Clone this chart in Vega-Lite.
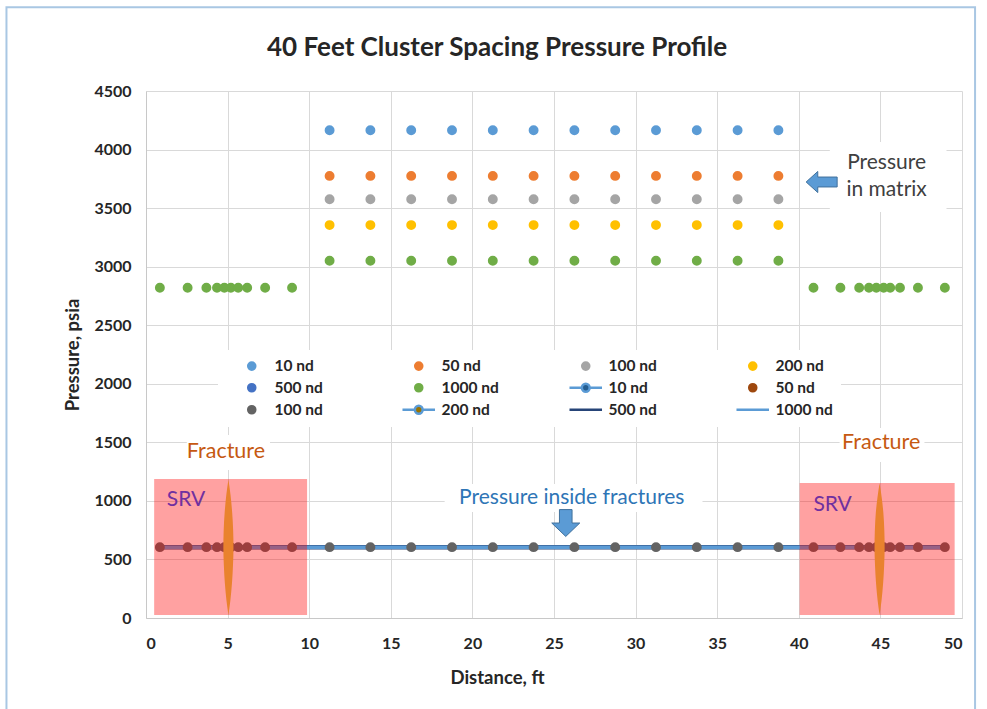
{
  "$schema": "https://vega.github.io/schema/vega-lite/v6.json",
  "width": 816,
  "height": 527,
  "autosize": {"type": "none"},
  "padding": {"left": 146, "top": 91, "right": 25, "bottom": 91},
  "background": "white",
  "config": {
    "font": "Lato",
    "view": {"stroke": null},
    "axis": {
      "grid": true,
      "gridColor": "#D9D9D9",
      "gridWidth": 1,
      "domainColor": "#C8C8C8",
      "domainWidth": 1,
      "ticks": false,
      "format": "d",
      "labelFont": "Lato",
      "labelFontSize": 16,
      "labelFontWeight": "bold",
      "labelColor": "#262626",
      "titleFont": "Lato",
      "titleFontSize": 18.5,
      "titleFontWeight": "bold",
      "titleColor": "#262626"
    }
  },
  "title": {
    "text": "40 Feet Cluster Spacing Pressure Profile",
    "font": "Lato",
    "fontSize": 26,
    "fontWeight": "bold",
    "color": "#262626",
    "anchor": "middle",
    "frame": "group",
    "dx": -57,
    "dy": 55,
    "offset": 0
  },
  "datasets": {
    "frame": [{"x": -8.55, "x2": 50.8, "y": 5215, "y2": -800}],
    "boxes": [
      {"x": 41.9, "x2": 49.05, "y": 3467, "y2": 4065},
      {"x": 18.3, "x2": 34.1, "y": 905, "y2": 1144},
      {"x": 2.5, "x2": 7.6, "y": 1264, "y2": 1563},
      {"x": 42.5, "x2": 47.7, "y": 1332, "y2": 1622}
    ],
    "zones": [
      {"x": 0.5, "x2": 9.87, "y": 25, "y2": 1187},
      {"x": 40.05, "x2": 49.55, "y": 25, "y2": 1153}
    ],
    "fractures": [
      {"frac": "left", "y": 25, "x": 5.05, "x2": 5.05},
      {"frac": "left", "y": 150, "x": 4.93, "x2": 5.17},
      {"frac": "left", "y": 300, "x": 4.83, "x2": 5.27},
      {"frac": "left", "y": 450, "x": 4.77, "x2": 5.33},
      {"frac": "left", "y": 600, "x": 4.74, "x2": 5.36},
      {"frac": "left", "y": 750, "x": 4.76, "x2": 5.34},
      {"frac": "left", "y": 900, "x": 4.82, "x2": 5.28},
      {"frac": "left", "y": 1050, "x": 4.92, "x2": 5.18},
      {"frac": "left", "y": 1180, "x": 5.05, "x2": 5.05},
      {"frac": "right", "y": 25, "x": 44.95, "x2": 44.95},
      {"frac": "right", "y": 150, "x": 44.83, "x2": 45.07},
      {"frac": "right", "y": 300, "x": 44.73, "x2": 45.17},
      {"frac": "right", "y": 450, "x": 44.67, "x2": 45.23},
      {"frac": "right", "y": 600, "x": 44.64, "x2": 45.26},
      {"frac": "right", "y": 750, "x": 44.66, "x2": 45.24},
      {"frac": "right", "y": 900, "x": 44.72, "x2": 45.18},
      {"frac": "right", "y": 1030, "x": 44.82, "x2": 45.08},
      {"frac": "right", "y": 1150, "x": 44.95, "x2": 44.95}
    ],
    "lines": [
      {"series": "F 500 nd", "x": 0.85, "y": 605}, {"series": "F 500 nd", "x": 2.55, "y": 605}, {"series": "F 500 nd", "x": 3.7, "y": 605}, {"series": "F 500 nd", "x": 4.35, "y": 605}, {"series": "F 500 nd", "x": 4.8, "y": 605}, {"series": "F 500 nd", "x": 5.2, "y": 605}, {"series": "F 500 nd", "x": 5.65, "y": 605}, {"series": "F 500 nd", "x": 6.2, "y": 605}, {"series": "F 500 nd", "x": 7.3, "y": 605}, {"series": "F 500 nd", "x": 8.95, "y": 605},
      {"series": "F 500 nd", "x": 11.25, "y": 605}, {"series": "F 500 nd", "x": 13.75, "y": 605}, {"series": "F 500 nd", "x": 16.25, "y": 605}, {"series": "F 500 nd", "x": 18.75, "y": 605}, {"series": "F 500 nd", "x": 21.25, "y": 605}, {"series": "F 500 nd", "x": 23.75, "y": 605}, {"series": "F 500 nd", "x": 26.25, "y": 605}, {"series": "F 500 nd", "x": 28.75, "y": 605}, {"series": "F 500 nd", "x": 31.25, "y": 605}, {"series": "F 500 nd", "x": 33.75, "y": 605}, {"series": "F 500 nd", "x": 36.25, "y": 605}, {"series": "F 500 nd", "x": 38.75, "y": 605},
      {"series": "F 500 nd", "x": 40.9, "y": 605}, {"series": "F 500 nd", "x": 42.55, "y": 605}, {"series": "F 500 nd", "x": 43.7, "y": 605}, {"series": "F 500 nd", "x": 44.3, "y": 605}, {"series": "F 500 nd", "x": 44.75, "y": 605}, {"series": "F 500 nd", "x": 45.2, "y": 605}, {"series": "F 500 nd", "x": 45.6, "y": 605}, {"series": "F 500 nd", "x": 46.2, "y": 605}, {"series": "F 500 nd", "x": 47.3, "y": 605}, {"series": "F 500 nd", "x": 48.95, "y": 605},
      {"series": "F 1000 nd", "x": 0.85, "y": 605}, {"series": "F 1000 nd", "x": 2.55, "y": 605}, {"series": "F 1000 nd", "x": 3.7, "y": 605}, {"series": "F 1000 nd", "x": 4.35, "y": 605}, {"series": "F 1000 nd", "x": 4.8, "y": 605}, {"series": "F 1000 nd", "x": 5.2, "y": 605}, {"series": "F 1000 nd", "x": 5.65, "y": 605}, {"series": "F 1000 nd", "x": 6.2, "y": 605}, {"series": "F 1000 nd", "x": 7.3, "y": 605}, {"series": "F 1000 nd", "x": 8.95, "y": 605},
      {"series": "F 1000 nd", "x": 11.25, "y": 605}, {"series": "F 1000 nd", "x": 13.75, "y": 605}, {"series": "F 1000 nd", "x": 16.25, "y": 605}, {"series": "F 1000 nd", "x": 18.75, "y": 605}, {"series": "F 1000 nd", "x": 21.25, "y": 605}, {"series": "F 1000 nd", "x": 23.75, "y": 605}, {"series": "F 1000 nd", "x": 26.25, "y": 605}, {"series": "F 1000 nd", "x": 28.75, "y": 605}, {"series": "F 1000 nd", "x": 31.25, "y": 605}, {"series": "F 1000 nd", "x": 33.75, "y": 605}, {"series": "F 1000 nd", "x": 36.25, "y": 605}, {"series": "F 1000 nd", "x": 38.75, "y": 605},
      {"series": "F 1000 nd", "x": 40.9, "y": 605}, {"series": "F 1000 nd", "x": 42.55, "y": 605}, {"series": "F 1000 nd", "x": 43.7, "y": 605}, {"series": "F 1000 nd", "x": 44.3, "y": 605}, {"series": "F 1000 nd", "x": 44.75, "y": 605}, {"series": "F 1000 nd", "x": 45.2, "y": 605}, {"series": "F 1000 nd", "x": 45.6, "y": 605}, {"series": "F 1000 nd", "x": 46.2, "y": 605}, {"series": "F 1000 nd", "x": 47.3, "y": 605}, {"series": "F 1000 nd", "x": 48.95, "y": 605}
    ],
    "points": [
      {"series": "M 10 nd", "x": 11.25, "y": 4165}, {"series": "M 10 nd", "x": 13.75, "y": 4165}, {"series": "M 10 nd", "x": 16.25, "y": 4165}, {"series": "M 10 nd", "x": 18.75, "y": 4165}, {"series": "M 10 nd", "x": 21.25, "y": 4165}, {"series": "M 10 nd", "x": 23.75, "y": 4165}, {"series": "M 10 nd", "x": 26.25, "y": 4165}, {"series": "M 10 nd", "x": 28.75, "y": 4165}, {"series": "M 10 nd", "x": 31.25, "y": 4165}, {"series": "M 10 nd", "x": 33.75, "y": 4165}, {"series": "M 10 nd", "x": 36.25, "y": 4165}, {"series": "M 10 nd", "x": 38.75, "y": 4165},
      {"series": "M 50 nd", "x": 11.25, "y": 3775}, {"series": "M 50 nd", "x": 13.75, "y": 3775}, {"series": "M 50 nd", "x": 16.25, "y": 3775}, {"series": "M 50 nd", "x": 18.75, "y": 3775}, {"series": "M 50 nd", "x": 21.25, "y": 3775}, {"series": "M 50 nd", "x": 23.75, "y": 3775}, {"series": "M 50 nd", "x": 26.25, "y": 3775}, {"series": "M 50 nd", "x": 28.75, "y": 3775}, {"series": "M 50 nd", "x": 31.25, "y": 3775}, {"series": "M 50 nd", "x": 33.75, "y": 3775}, {"series": "M 50 nd", "x": 36.25, "y": 3775}, {"series": "M 50 nd", "x": 38.75, "y": 3775},
      {"series": "M 100 nd", "x": 11.25, "y": 3575}, {"series": "M 100 nd", "x": 13.75, "y": 3575}, {"series": "M 100 nd", "x": 16.25, "y": 3575}, {"series": "M 100 nd", "x": 18.75, "y": 3575}, {"series": "M 100 nd", "x": 21.25, "y": 3575}, {"series": "M 100 nd", "x": 23.75, "y": 3575}, {"series": "M 100 nd", "x": 26.25, "y": 3575}, {"series": "M 100 nd", "x": 28.75, "y": 3575}, {"series": "M 100 nd", "x": 31.25, "y": 3575}, {"series": "M 100 nd", "x": 33.75, "y": 3575}, {"series": "M 100 nd", "x": 36.25, "y": 3575}, {"series": "M 100 nd", "x": 38.75, "y": 3575},
      {"series": "M 200 nd", "x": 11.25, "y": 3355}, {"series": "M 200 nd", "x": 13.75, "y": 3355}, {"series": "M 200 nd", "x": 16.25, "y": 3355}, {"series": "M 200 nd", "x": 18.75, "y": 3355}, {"series": "M 200 nd", "x": 21.25, "y": 3355}, {"series": "M 200 nd", "x": 23.75, "y": 3355}, {"series": "M 200 nd", "x": 26.25, "y": 3355}, {"series": "M 200 nd", "x": 28.75, "y": 3355}, {"series": "M 200 nd", "x": 31.25, "y": 3355}, {"series": "M 200 nd", "x": 33.75, "y": 3355}, {"series": "M 200 nd", "x": 36.25, "y": 3355}, {"series": "M 200 nd", "x": 38.75, "y": 3355},
      {"series": "M 1000 nd", "x": 11.25, "y": 3050}, {"series": "M 1000 nd", "x": 13.75, "y": 3050}, {"series": "M 1000 nd", "x": 16.25, "y": 3050}, {"series": "M 1000 nd", "x": 18.75, "y": 3050}, {"series": "M 1000 nd", "x": 21.25, "y": 3050}, {"series": "M 1000 nd", "x": 23.75, "y": 3050}, {"series": "M 1000 nd", "x": 26.25, "y": 3050}, {"series": "M 1000 nd", "x": 28.75, "y": 3050}, {"series": "M 1000 nd", "x": 31.25, "y": 3050}, {"series": "M 1000 nd", "x": 33.75, "y": 3050}, {"series": "M 1000 nd", "x": 36.25, "y": 3050}, {"series": "M 1000 nd", "x": 38.75, "y": 3050},
      {"series": "M 1000 nd", "x": 0.85, "y": 2820}, {"series": "M 1000 nd", "x": 2.55, "y": 2820}, {"series": "M 1000 nd", "x": 3.7, "y": 2820}, {"series": "M 1000 nd", "x": 4.35, "y": 2820}, {"series": "M 1000 nd", "x": 4.8, "y": 2820}, {"series": "M 1000 nd", "x": 5.2, "y": 2820}, {"series": "M 1000 nd", "x": 5.65, "y": 2820}, {"series": "M 1000 nd", "x": 6.2, "y": 2820}, {"series": "M 1000 nd", "x": 7.3, "y": 2820}, {"series": "M 1000 nd", "x": 8.95, "y": 2820},
      {"series": "M 1000 nd", "x": 40.9, "y": 2820}, {"series": "M 1000 nd", "x": 42.55, "y": 2820}, {"series": "M 1000 nd", "x": 43.7, "y": 2820}, {"series": "M 1000 nd", "x": 44.3, "y": 2820}, {"series": "M 1000 nd", "x": 44.75, "y": 2820}, {"series": "M 1000 nd", "x": 45.2, "y": 2820}, {"series": "M 1000 nd", "x": 45.6, "y": 2820}, {"series": "M 1000 nd", "x": 46.2, "y": 2820}, {"series": "M 1000 nd", "x": 47.3, "y": 2820}, {"series": "M 1000 nd", "x": 48.95, "y": 2820},
      {"series": "F 100 nd", "x": 0.85, "y": 605}, {"series": "F 100 nd", "x": 2.55, "y": 605}, {"series": "F 100 nd", "x": 3.7, "y": 605}, {"series": "F 100 nd", "x": 4.35, "y": 605}, {"series": "F 100 nd", "x": 4.8, "y": 605}, {"series": "F 100 nd", "x": 5.2, "y": 605}, {"series": "F 100 nd", "x": 5.65, "y": 605}, {"series": "F 100 nd", "x": 6.2, "y": 605}, {"series": "F 100 nd", "x": 7.3, "y": 605}, {"series": "F 100 nd", "x": 8.95, "y": 605},
      {"series": "F 100 nd", "x": 11.25, "y": 605}, {"series": "F 100 nd", "x": 13.75, "y": 605}, {"series": "F 100 nd", "x": 16.25, "y": 605}, {"series": "F 100 nd", "x": 18.75, "y": 605}, {"series": "F 100 nd", "x": 21.25, "y": 605}, {"series": "F 100 nd", "x": 23.75, "y": 605}, {"series": "F 100 nd", "x": 26.25, "y": 605}, {"series": "F 100 nd", "x": 28.75, "y": 605}, {"series": "F 100 nd", "x": 31.25, "y": 605}, {"series": "F 100 nd", "x": 33.75, "y": 605}, {"series": "F 100 nd", "x": 36.25, "y": 605}, {"series": "F 100 nd", "x": 38.75, "y": 605},
      {"series": "F 100 nd", "x": 40.9, "y": 605}, {"series": "F 100 nd", "x": 42.55, "y": 605}, {"series": "F 100 nd", "x": 43.7, "y": 605}, {"series": "F 100 nd", "x": 44.3, "y": 605}, {"series": "F 100 nd", "x": 44.75, "y": 605}, {"series": "F 100 nd", "x": 45.2, "y": 605}, {"series": "F 100 nd", "x": 45.6, "y": 605}, {"series": "F 100 nd", "x": 46.2, "y": 605}, {"series": "F 100 nd", "x": 47.3, "y": 605}, {"series": "F 100 nd", "x": 48.95, "y": 605}
    ],
    "notes": [
      {"kind": "fracture", "text": "Fracture", "x": 4.9, "y": 1416},
      {"kind": "fracture", "text": "Fracture", "x": 45.05, "y": 1495},
      {"kind": "srv", "text": "SRV", "x": 2.45, "y": 1008},
      {"kind": "srv", "text": "SRV", "x": 42.07, "y": 965},
      {"kind": "inside", "text": "Pressure inside fractures", "x": 26.09, "y": 1025},
      {"kind": "matrix", "text": "Pressure", "x": 45.38, "y": 3885},
      {"kind": "matrix", "text": "in matrix", "x": 45.38, "y": 3655}
    ],
    "arrows": [
      {"dir": "left", "x": 41.4, "y": 3723},
      {"dir": "down", "x": 25.72, "y": 811}
    ]
  },
  "encoding": {
    "x": {
      "field": "x",
      "type": "quantitative",
      "scale": {"domain": [0, 50], "nice": false, "zero": false},
      "axis": {
        "title": "Distance, ft",
        "values": [0, 5, 10, 15, 20, 25, 30, 35, 40, 45, 50],
        "labelPadding": 17,
        "titleX": 351,
        "titleY": 65,
        "titleBaseline": "alphabetic"
      }
    },
    "y": {
      "field": "y",
      "type": "quantitative",
      "scale": {"domain": [0, 4500], "nice": false, "zero": false},
      "axis": {
        "title": "Pressure, psia",
        "values": [0, 500, 1000, 1500, 2000, 2500, 3000, 3500, 4000, 4500],
        "labelPadding": 15,
        "titlePadding": 11
      }
    }
  },
  "layer": [
    {
      "data": {"name": "frame"},
      "mark": {"type": "rect", "clip": false, "fill": null, "fillOpacity": 0, "stroke": "#A9C7E3", "strokeWidth": 2},
      "encoding": {"x2": {"field": "x2"}, "y2": {"field": "y2"}}
    },
    {
      "data": {"name": "boxes"},
      "mark": {"type": "rect", "fill": "white"},
      "encoding": {"x2": {"field": "x2"}, "y2": {"field": "y2"}}
    },
    {
      "data": {"name": "lines"},
      "transform": [{"filter": "datum.series == 'F 500 nd'"}],
      "mark": {"type": "line", "color": "#264478", "strokeWidth": 4.5},
      "encoding": {"order": {"field": "x"}}
    },
    {
      "data": {"name": "lines"},
      "transform": [{"filter": "datum.series == 'F 1000 nd'"}],
      "mark": {"type": "line", "color": "#5B9BD5", "strokeWidth": 3.5},
      "encoding": {"order": {"field": "x"}}
    },
    {
      "data": {"name": "points"},
      "mark": {"type": "point", "filled": true, "opacity": 1, "size": 55, "strokeWidth": 2.5},
      "encoding": {
        "fill": {
          "field": "series",
          "type": "nominal",
          "scale": {
            "domain": ["M 10 nd", "M 50 nd", "M 100 nd", "M 200 nd", "M 500 nd", "M 1000 nd", "F 10 nd", "F 50 nd", "F 100 nd", "F 200 nd", "F 500 nd", "F 1000 nd"],
            "range": ["#5B9BD5", "#ED7D31", "#A5A5A5", "#FFC000", "#4472C4", "#70AD47", "#255E91", "#9E480E", "#636363", "#997300", "#264478", "#5B9BD5"]
          },
          "legend": {
            "title": null,
            "orient": "none",
            "direction": "horizontal",
            "legendX": 72,
            "legendY": 259,
            "columns": 4,
            "gridAlign": "all",
            "columnPadding": 61,
            "rowPadding": 3,
            "padding": 8,
            "fillColor": "white",
            "symbolSize": 50,
            "symbolStrokeWidth": 2.5,
            "symbolOffset": 18,
            "labelOffset": 15,
            "labelFont": "Lato",
            "labelFontSize": 15.5,
            "labelFontWeight": "bold",
            "labelColor": "#262626",
            "labelExpr": "substring(datum.label, 2)"
          }
        },
        "stroke": {
          "field": "series",
          "type": "nominal",
          "scale": {
            "domain": ["M 10 nd", "M 50 nd", "M 100 nd", "M 200 nd", "M 500 nd", "M 1000 nd", "F 10 nd", "F 50 nd", "F 100 nd", "F 200 nd", "F 500 nd", "F 1000 nd"],
            "range": ["#5B9BD5", "#ED7D31", "#A5A5A5", "#FFC000", "#4472C4", "#70AD47", "#5B9BD5", "#9E480E", "#636363", "#5B9BD5", "#264478", "#5B9BD5"]
          }
        },
        "shape": {
          "field": "series",
          "type": "nominal",
          "scale": {
            "domain": ["M 10 nd", "M 50 nd", "M 100 nd", "M 200 nd", "M 500 nd", "M 1000 nd", "F 10 nd", "F 50 nd", "F 100 nd", "F 200 nd", "F 500 nd", "F 1000 nd"],
            "range": [
              "circle", "circle", "circle", "circle", "circle", "circle",
              "M-4.6,0 L-1.1,0 M1.1,0 L4.6,0 M-1.1,0 A1.1,1.1 0 1,1 1.1,0 A1.1,1.1 0 1,1 -1.1,0 Z",
              "circle", "circle",
              "M-4.6,0 L-1.1,0 M1.1,0 L4.6,0 M-1.1,0 A1.1,1.1 0 1,1 1.1,0 A1.1,1.1 0 1,1 -1.1,0 Z",
              "M-4.6,0 L4.6,0",
              "M-4.6,0 L4.6,0"
            ]
          }
        }
      }
    },
    {
      "data": {"name": "zones"},
      "mark": {"type": "rect", "fill": "#FF0000", "fillOpacity": 0.37},
      "encoding": {"x2": {"field": "x2"}, "y2": {"field": "y2"}}
    },
    {
      "data": {"name": "fractures"},
      "mark": {"type": "area", "orient": "horizontal", "color": "#E9822E", "opacity": 1, "interpolate": "monotone"},
      "encoding": {"x2": {"field": "x2"}, "detail": {"field": "frac"}}
    },
    {
      "data": {"name": "notes"},
      "transform": [{"filter": "datum.kind == 'fracture'"}],
      "mark": {"type": "text", "font": "Lato", "fontSize": 21.5, "color": "#C65911", "align": "center", "baseline": "middle"},
      "encoding": {"text": {"field": "text"}}
    },
    {
      "data": {"name": "notes"},
      "transform": [{"filter": "datum.kind == 'srv'"}],
      "mark": {"type": "text", "font": "Lato", "fontSize": 21, "color": "#7030A0", "align": "center", "baseline": "middle"},
      "encoding": {"text": {"field": "text"}}
    },
    {
      "data": {"name": "notes"},
      "transform": [{"filter": "datum.kind == 'inside'"}],
      "mark": {"type": "text", "font": "Lato", "fontSize": 21, "color": "#2E75B6", "align": "center", "baseline": "middle"},
      "encoding": {"text": {"field": "text"}}
    },
    {
      "data": {"name": "notes"},
      "transform": [{"filter": "datum.kind == 'matrix'"}],
      "mark": {"type": "text", "font": "Lato", "fontSize": 21, "color": "#404040", "align": "center", "baseline": "middle"},
      "encoding": {"text": {"field": "text"}}
    },
    {
      "data": {"name": "arrows"},
      "transform": [{"filter": "datum.dir == 'left'"}],
      "mark": {"type": "point", "filled": true, "opacity": 1, "size": 961, "fill": "#5B9BD5", "stroke": "#41719C", "strokeWidth": 1,
               "shape": "M-1,0 L-0.25,-0.68 L-0.25,-0.32 L1,-0.32 L1,0.32 L-0.25,0.32 L-0.25,0.68 Z"}
    },
    {
      "data": {"name": "arrows"},
      "transform": [{"filter": "datum.dir == 'down'"}],
      "mark": {"type": "point", "filled": true, "opacity": 1, "size": 784, "fill": "#5B9BD5", "stroke": "#41719C", "strokeWidth": 1,
               "shape": "M-0.45,-0.96 L0.45,-0.96 L0.45,0 L1,0 L0,0.96 L-1,0 L-0.45,0 Z"}
    }
  ]
}
